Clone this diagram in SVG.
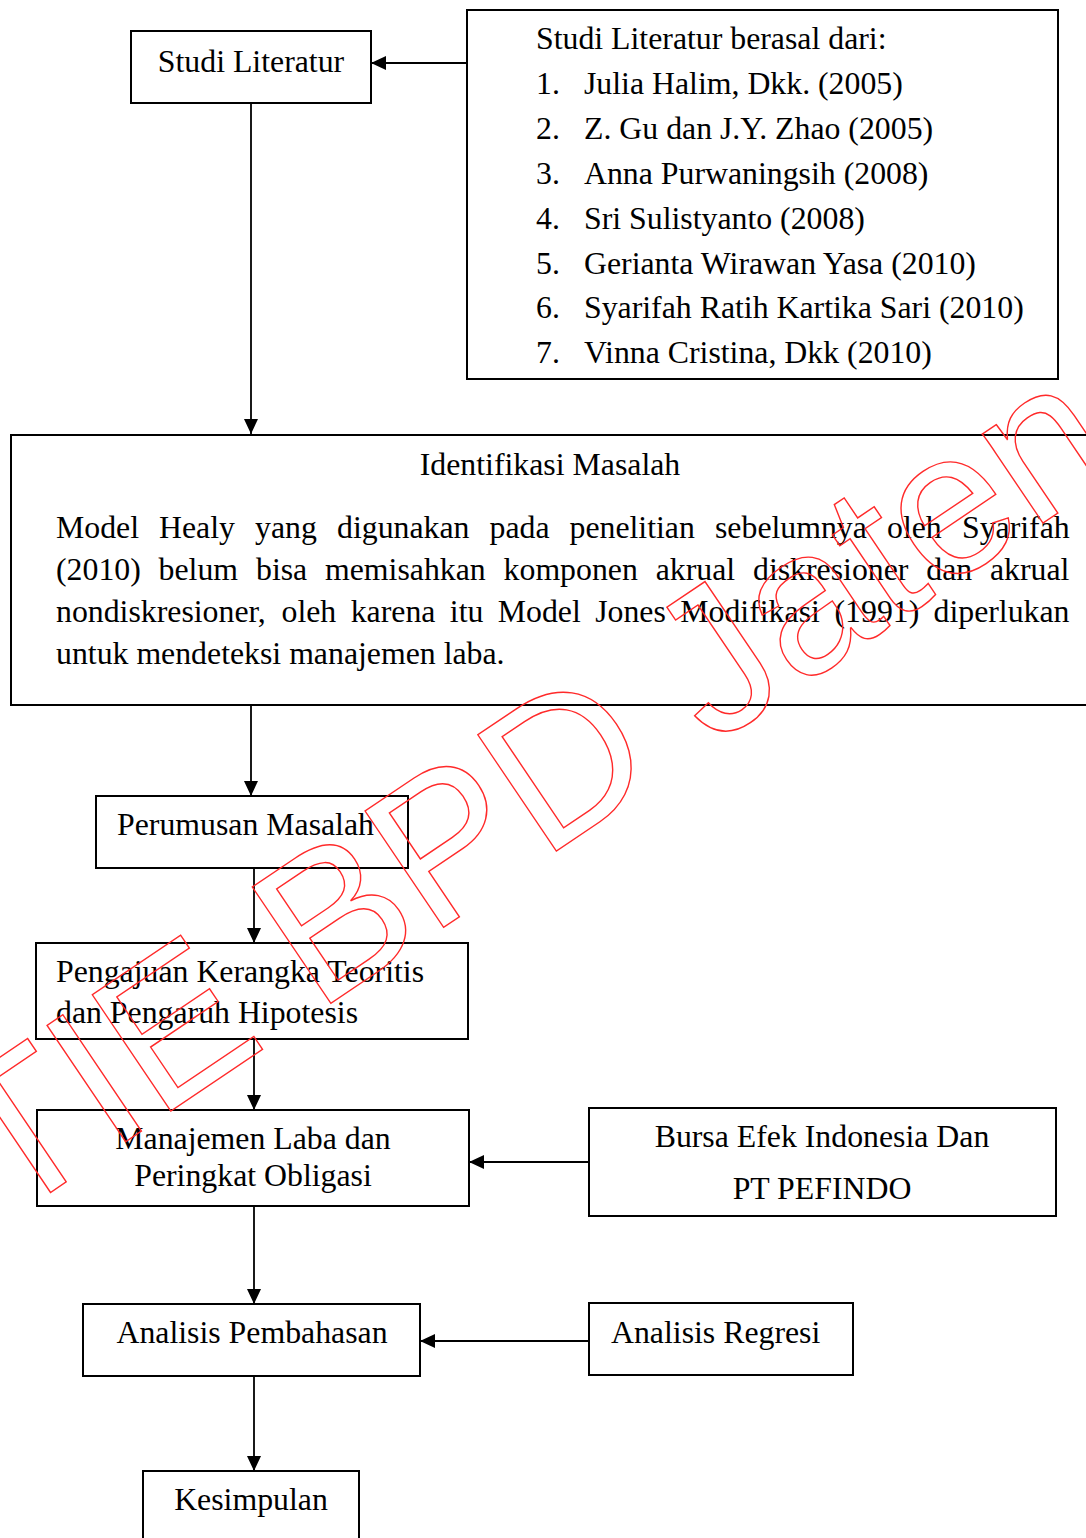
<svg xmlns="http://www.w3.org/2000/svg" width="1086" height="1538" viewBox="0 0 1086 1538">
<style>
.box{fill:#fff;stroke:#000;stroke-width:2}
.t{font-family:"Liberation Serif","Times New Roman",serif;font-size:31.8px;fill:#000}
.c{text-anchor:middle}
.con{stroke:#000;stroke-width:1.8;fill:none;marker-end:url(#ah)}
.wm{font-family:"Liberation Sans",Arial,sans-serif;font-size:204px;fill:none;stroke:#ff2a2a;stroke-width:1.4}
</style>
<defs>
<marker id="ah" markerUnits="userSpaceOnUse" markerWidth="16" markerHeight="14" refX="15" refY="7" orient="auto">
<path d="M0,0 L15,7 L0,14 z" fill="#000"/>
</marker>
</defs>
<rect width="1086" height="1538" fill="#fff"/>
<g id="studi-literatur">
<rect class="box" x="131" y="31" width="240" height="72"/>
<text class="t c" x="251" y="72">Studi Literatur</text>
</g>
<g id="sumber-literatur">
<rect class="box" x="467" y="10" width="591" height="369"/>
<text class="t" x="536" y="49">Studi Literatur berasal dari:</text>
<text class="t" y="94"><tspan x="536">1.</tspan><tspan x="584">Julia Halim, Dkk. (2005)</tspan></text>
<text class="t" y="139"><tspan x="536">2.</tspan><tspan x="584">Z. Gu dan J.Y. Zhao (2005)</tspan></text>
<text class="t" y="184"><tspan x="536">3.</tspan><tspan x="584">Anna Purwaningsih (2008)</tspan></text>
<text class="t" y="229"><tspan x="536">4.</tspan><tspan x="584">Sri Sulistyanto (2008)</tspan></text>
<text class="t" y="274"><tspan x="536">5.</tspan><tspan x="584">Gerianta Wirawan Yasa (2010)</tspan></text>
<text class="t" y="318"><tspan x="536">6.</tspan><tspan x="584">Syarifah Ratih Kartika Sari (2010)</tspan></text>
<text class="t" y="363"><tspan x="536">7.</tspan><tspan x="584">Vinna Cristina, Dkk (2010)</tspan></text>
</g>
<g id="identifikasi-masalah">
<rect class="box" x="11" y="435" width="1090" height="270"/>
<text class="t c" x="550" y="475">Identifikasi Masalah</text>
<text class="t" y="538"><tspan x="56">Model</tspan><tspan x="159">Healy</tspan><tspan x="255">yang</tspan><tspan x="337">digunakan</tspan><tspan x="489.5">pada</tspan><tspan x="569.5">penelitian</tspan><tspan x="715">sebelumnya</tspan><tspan x="887">oleh</tspan><tspan x="962">Syarifah</tspan></text>
<text class="t" y="580"><tspan x="56">(2010)</tspan><tspan x="158.6">belum</tspan><tspan x="256">bisa</tspan><tspan x="325">memisahkan</tspan><tspan x="503.6">komponen</tspan><tspan x="655.7">akrual</tspan><tspan x="753">diskresioner</tspan><tspan x="926.3">dan</tspan><tspan x="990">akrual</tspan></text>
<text class="t" y="622"><tspan x="56">nondiskresioner,</tspan><tspan x="281.5">oleh</tspan><tspan x="350.7">karena</tspan><tspan x="449.8">itu</tspan><tspan x="497.8">Model</tspan><tspan x="595.2">Jones</tspan><tspan x="680.3">Modifikasi</tspan><tspan x="834.5">(1991)</tspan><tspan x="933.5">diperlukan</tspan></text>
<text class="t" x="56" y="664">untuk mendeteksi manajemen laba.</text>
</g>
<g id="perumusan-masalah">
<rect class="box" x="96" y="796" width="312" height="72"/>
<text class="t" x="117" y="835">Perumusan Masalah</text>
</g>
<g id="pengajuan-kerangka">
<rect class="box" x="36" y="943" width="432" height="96"/>
<text class="t" x="56" y="982">Pengajuan Kerangka Teoritis</text>
<text class="t" x="56" y="1023">dan Pengaruh Hipotesis</text>
</g>
<g id="manajemen-laba">
<rect class="box" x="37" y="1110" width="432" height="96"/>
<text class="t c" x="253" y="1149">Manajemen Laba dan</text>
<text class="t c" x="253" y="1186">Peringkat Obligasi</text>
</g>
<g id="bursa-efek">
<rect class="box" x="589" y="1108" width="467" height="108"/>
<text class="t c" x="822" y="1147">Bursa Efek Indonesia Dan</text>
<text class="t c" x="822" y="1199">PT PEFINDO</text>
</g>
<g id="analisis-pembahasan">
<rect class="box" x="83" y="1304" width="337" height="72"/>
<text class="t c" x="252" y="1343">Analisis Pembahasan</text>
</g>
<g id="analisis-regresi">
<rect class="box" x="589" y="1303" width="264" height="72"/>
<text class="t" x="611" y="1343">Analisis Regresi</text>
</g>
<g id="kesimpulan">
<rect class="box" x="143" y="1471" width="216" height="80"/>
<text class="t c" x="251" y="1510">Kesimpulan</text>
</g>
<g id="connectors">
<line class="con" x1="467" y1="63" x2="371" y2="63"/>
<line class="con" x1="251" y1="103" x2="251" y2="434"/>
<line class="con" x1="251" y1="705" x2="251" y2="796"/>
<line class="con" x1="254" y1="868" x2="254" y2="943"/>
<line class="con" x1="254" y1="1039" x2="254" y2="1110"/>
<line class="con" x1="589" y1="1162" x2="469" y2="1162"/>
<line class="con" x1="254" y1="1206" x2="254" y2="1304"/>
<line class="con" x1="589" y1="1341" x2="420" y2="1341"/>
<line class="con" x1="254" y1="1376" x2="254" y2="1471"/>
</g>
<text class="wm" transform="translate(-106,1298) rotate(-34)">STIE BPD Jateng</text>
</svg>
